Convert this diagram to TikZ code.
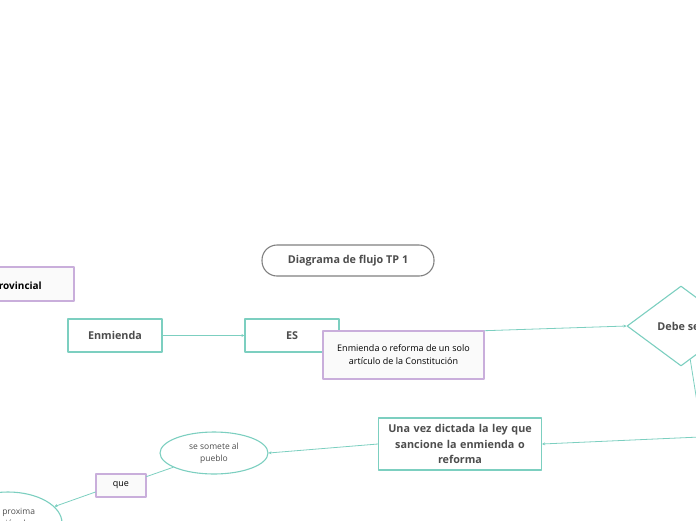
\documentclass[tikz,border=0pt]{standalone}
\usepackage{fontspec}
\setmainfont{Open Sans}
\usetikzlibrary{arrows.meta,shapes.geometric,calc}
\definecolor{tealline}{RGB}{124,207,192}
\definecolor{lilaline}{RGB}{201,174,219}
\definecolor{grisline}{RGB}{128,128,128}
\definecolor{grisfill}{RGB}{250,250,250}
\definecolor{gristext}{RGB}{77,77,77}

\begin{document}
\begin{tikzpicture}[x=1pt,y=-1pt,line cap=round,line join=round,
  >={Stealth[length=3pt,width=3pt]},
  conn/.style={draw=tealline,line width=0.8pt},
  caja/.style={draw=tealline,line width=1.1pt,fill=white,text=gristext,font=\fontsize{10.8}{15.5}\selectfont\bfseries,align=center,inner sep=0pt},
  nota/.style={draw=lilaline,line width=1.1pt,fill=grisfill,text=black,font=\fontsize{9}{13}\selectfont,align=center,inner sep=0pt},
  globo/.style={ellipse,draw=tealline,line width=1.1pt,fill=white,text=gristext,font=\fontsize{8.5}{12}\selectfont,align=center,inner sep=0pt}]
\useasboundingbox (0,0) rectangle (696,520);
\clip (0,0) rectangle (696,520);
% titulo
\node[draw=grisline,line width=1.1pt,rounded corners=15pt,minimum width=172pt,minimum height=31pt,
  text=gristext,font=\fontsize{10.8}{13}\selectfont\bfseries] (titulo) at (348,260.5) {Diagrama de flujo TP 1};
% nodos
\node[nota,minimum width=110pt,minimum height=34pt] (provincial) at (19,284) {};
\node[anchor=east,inner sep=0pt,font=\fontsize{10}{12}\selectfont\bfseries] (provtxt) at (42,286) {Provincial};
\node[caja,minimum width=94pt,minimum height=33pt] (enmienda) at (115,335.5) {Enmienda};
\node[caja,minimum width=94pt,minimum height=33pt] (es) at (292,335.5) {ES};
\node[diamond,draw=tealline,line width=1.1pt,fill=white,minimum width=108pt,minimum height=80pt,inner sep=0pt,
  text=gristext,font=\fontsize{10.8}{13}\selectfont\bfseries] (debe) at (681,326) {Debe ser};
\node[caja,minimum width=163pt,minimum height=52pt,text width=160pt] (unavez) at (460,444) {Una vez dictada la ley que\\sancione la enmienda o\\reforma};
\node[globo,minimum width=108pt,minimum height=42pt] (somete) at (214,453) {se somete al\\pueblo};
\node[nota,minimum width=50pt,minimum height=23pt] (que) at (121,485.5) {que};
\node[globo,minimum width=108pt,minimum height=62pt] (proxima) at (8,523) {en la proxima\\elección de\\};
\coordinate (bajada) at (697,402);
\coordinate (subida) at (700,437);
% conectores
\draw[conn,->] (enmienda.east) -- (es.west);
\draw[conn,->] (es.east) -- (debe.west);
\draw[conn] ($(debe.south)!0.17!(debe.east)$) -- (bajada);
\draw[conn,->] (subida) -- (unavez.east);
\draw[conn,->] (unavez.west) -- (somete.east);
\draw[conn] (somete) -- (que);
\draw[conn,->] (que.west |- 0,492) -- (proxima);
% nota sobre la linea
\node[nota,minimum width=161pt,minimum height=48pt] (articulo) at (403.5,355) {Enmienda o reforma de un solo\\artículo de la Constitución};
\end{tikzpicture}
\end{document}
